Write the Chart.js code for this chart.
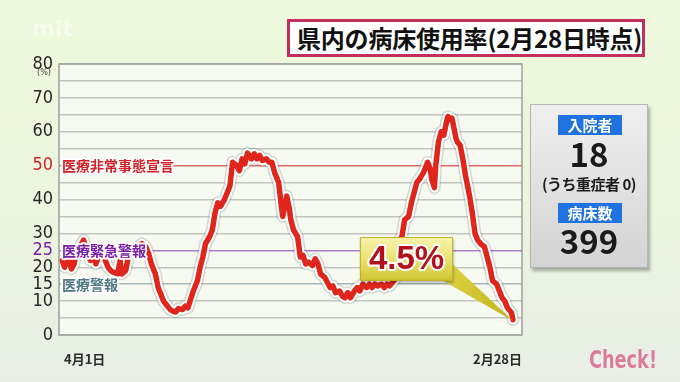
<!DOCTYPE html>
<html>
<head>
<meta charset="utf-8">
<script src="https://cdn.jsdelivr.net/npm/chart.js@4.4.1/dist/chart.umd.min.js"></script>
<style>
  html, body { margin:0; padding:0; }
  body { width:680px; height:382px; overflow:hidden; position:relative;
    background: linear-gradient(180deg, #eef8dc 0%, #ecf5de 55%, #e8eee6 100%);
    font-family: 'Noto Sans CJK JP', sans-serif; }
  #wrap { position:absolute; left:0; top:0; width:680px; height:382px; }
  #title { position:absolute; left:287px; top:19px; width:358px; height:38px; box-sizing:border-box;
    border:3px solid #c32e5c; background:#fff; font-weight:700; font-size:24px; color:#111;
    line-height:32px; padding-left:7px; white-space:nowrap; letter-spacing:-0.2px; }
  #panel { position:absolute; left:530px; top:104px; width:118px; height:164px; box-sizing:border-box;
    border:1px solid #b5b5b5; background:linear-gradient(180deg,#efefef 0%,#d4d4d4 100%);
    box-shadow:2px 3px 3px rgba(0,0,0,0.3); }
  .blue { position:absolute; left:27px; width:64px; height:20px; background:#1f72e0; color:#fff;
    font-weight:700; font-size:15px; line-height:20px; text-align:center; }
  .big { position:absolute; left:0; width:100%; text-align:center; font-weight:700; color:#1a1a1a; }
  #mit { position:absolute; left:32px; top:16px; font-family:'DejaVu Sans', sans-serif; font-weight:700;
    font-size:22px; color:rgba(255,255,255,0.5); }
  #check { position:absolute; left:589px; top:346px; font-family:'DejaVu Sans Condensed',sans-serif;
    font-weight:700; font-size:24px; color:#d97c9a; text-shadow:0 0 2px #fff;
    transform:scaleX(0.82); transform-origin:left top; }
</style>
</head>
<body>
<div id="wrap"><canvas id="c" width="680" height="382"></canvas></div>
<div id="mit">mit</div>
<div id="title">県内の病床使用率(2月28日時点)</div>
<div id="panel">
  <div class="blue" style="top:10px;">入院者</div>
  <div class="big" style="top:28px;font-size:33px;line-height:40px;">18</div>
  <div class="big" style="top:68px;font-size:15px;line-height:22px;letter-spacing:-0.5px;">(うち重症者 0)</div>
  <div class="blue" style="top:98px;">病床数</div>
  <div class="big" style="top:115px;font-size:33px;line-height:40px;">399</div>
</div>
<div id="check">Check!</div>
<script>
// ---- data (day index from 4月1日, bed occupancy %) ----
const days = [0,2,4,7,9,11,13,16,18,21,23,25,27,30,32,34,36,38,41,43,44,47,49,51,53,56,59,62,64,66,69,71,73,75,78,80,82,84,86,89,91,93,95,97,100,102,104,106,109,111,113,115,117,120,122,124,126,129,131,133,135,137,140,142,144,146,148,151,153,155,157,160,162,163,165,166,168,169,171,174,176,178,180,182,185,187,189,191,194,196,198,200,202,205,207,209,211,213,216,218,220,222,225,227,229,231,233,236,238,240,242,244,247,249,251,253,256,258,260,262,264,267,269,270,272,273,275,276,278,280,282,284,285,287,288,290,291,292,294,296,298,301,303,305,307,309,312,314,316,318,321,323,325,327,329,332,333];
const rates = [22,20,24,19.5,21,25,26,28,25,22,24,21,23,25,22,20,19,18.5,18,22,18,19,23,24,24,26,27,26,24,21,18,14,12,10,8.5,7.5,7,6.8,7.8,7.5,8.5,8,10.5,13,16,20,23,27,29,31,36,39,38,40,42,44,51,50,48.5,52,50.5,53.7,52,53.5,52,53,51.5,52,51,51,48,45,38,35,39,41,37,34,31,29,23,23.5,21,21.5,20.5,22.5,21,18,17,15.5,14,14.5,12.5,13,11.5,11,12.5,11,13,14,13,15,14,15,14,15,14.5,15,14,15,14.5,15.5,17,28,29,34,35,39,42,45,46,48,50,51,49,46,43.5,50,57,60,59,63,64.5,63.5,64,60,58,57,56,52,47,41,36,30,28,27,26,23,20,16,15,13,11,10,8,6.5,4.5];
const xTickLabels = ['4月1日','2月28日'];
const yGridValues = [0,5,10,15,20,25,30,35,40,45,50,55,60,65,70,75,80];
const yTickLabels = [0,10,15,20,25,30,40,50,60,70,80];
const thresholds = [
  {value:50, label:'医療非常事態宣言', line:'#e06a6a', text:'#d2232a'},
  {value:25, label:'医療緊急警報', line:'#a77cc8', text:'#7a1fa8'},
  {value:15, label:'医療警報', line:'#aab6b8', text:'#4f7a84'}
];
const lastLabel = '4.5%';

const points = days.map((d,i)=>({x:d, y:rates[i]}));

function thresholdFor(v){ return thresholds.find(t=>t.value===v); }

const deco = {
  id:'deco',
  beforeDraw(chart){
    const {ctx, chartArea:a} = chart;
    ctx.save();
    ctx.fillStyle = '#f7faf1';
    ctx.fillRect(a.left, a.top, a.right-a.left, a.bottom-a.top);
    ctx.restore();
  },
  afterDatasetsDraw(chart){
    const {ctx, chartArea:a, scales:{x,y}} = chart;
    ctx.save();
    // frame
    ctx.strokeStyle = '#9da09a'; ctx.lineWidth = 1.5;
    ctx.strokeRect(a.left, a.top, a.right-a.left, a.bottom-a.top);
    // threshold labels
    ctx.font = '700 14px "Noto Sans CJK JP", sans-serif';
    ctx.textBaseline = 'middle'; ctx.textAlign = 'left';
    thresholds.forEach(t=>{
      const py = y.getPixelForValue(t.value);
      ctx.lineJoin = 'round';
      ctx.strokeStyle = 'rgba(255,255,255,0.95)'; ctx.lineWidth = 4;
      ctx.strokeText(t.label, a.left+3, py);
      ctx.fillStyle = t.text;
      ctx.fillText(t.label, a.left+3, py);
    });
    // (%) unit
    ctx.font = '9px "DejaVu Sans Condensed", sans-serif';
    ctx.fillStyle = '#444'; ctx.textAlign = 'center';
    ctx.fillText('(%)', 44, y.getPixelForValue(77.3));
    // callout
    const tipX = x.getPixelForValue(days[days.length-1]);
    const tipY = y.getPixelForValue(rates[rates.length-1]);
    const bl = x.getPixelForValue(220), br = x.getPixelForValue(288.8);
    const bt = y.getPixelForValue(28.9), bb = y.getPixelForValue(16);
    ctx.beginPath();
    ctx.moveTo(br-10, bb); ctx.lineTo(br, bb-16); ctx.lineTo(tipX, tipY+1); ctx.closePath();
    const pg = ctx.createLinearGradient(br, bb, tipX, tipY);
    pg.addColorStop(0,'#d9cf3c'); pg.addColorStop(1,'#bfb21f');
    ctx.fillStyle = pg; ctx.fill();
    ctx.shadowColor = 'rgba(0,0,0,0.3)'; ctx.shadowBlur = 3; ctx.shadowOffsetX = 1; ctx.shadowOffsetY = 2;
    const g = ctx.createLinearGradient(0, bt, 0, bb);
    g.addColorStop(0,'#f7f4ae'); g.addColorStop(0.5,'#ebe370'); g.addColorStop(1,'#cfc432');
    ctx.fillStyle = g;
    ctx.fillRect(bl, bt, br-bl, bb-bt);
    ctx.shadowColor = 'transparent';
    ctx.strokeStyle = '#bdb02a'; ctx.lineWidth = 1;
    ctx.strokeRect(bl+0.5, bt+0.5, br-bl-1, bb-bt-1);
    ctx.font = '700 33px "Liberation Sans", Arial, sans-serif';
    ctx.textAlign = 'center'; ctx.textBaseline = 'middle';
    ctx.lineWidth = 4; ctx.strokeStyle = '#fff';
    ctx.strokeText(lastLabel, (bl+br)/2, (bt+bb)/2+1);
    ctx.fillStyle = '#b3121c';
    ctx.fillText(lastLabel, (bl+br)/2, (bt+bb)/2+1);
    ctx.restore();
  }
};

new Chart(document.getElementById('c'), {
  type:'line',
  data:{ datasets:[
    {data:points, borderColor:'#e0261c', borderWidth:5.5, pointRadius:0, tension:0, borderJoinStyle:'round', borderCapStyle:'round'},
    {data:points, borderColor:'#ffffff', borderWidth:9.5, pointRadius:0, tension:0, borderJoinStyle:'round', borderCapStyle:'round'},
    {data:points, borderColor:'rgba(90,90,90,0.22)', borderWidth:12.5, pointRadius:0, tension:0, borderJoinStyle:'round', borderCapStyle:'round'}
  ]},
  options:{
    responsive:false, animation:false, devicePixelRatio:1,
    layout:{padding:{left:0, top:64, right:158, bottom:0}},
    plugins:{legend:{display:false}, tooltip:{enabled:false}},
    scales:{
      x:{ type:'linear', min:-2.2, max:339.7,
        afterFit(s){ s.height = 47; },
        afterBuildTicks(s){ s.ticks = [{value:1.5},{value:339.7}]; },
        grid:{display:false}, border:{display:false},
        ticks:{ autoSkip:false, align:'inner', padding:8, color:'#2a2a2a',
          font:{family:'"Noto Sans CJK JP", sans-serif', size:13, weight:'bold'},
          callback:(v,i)=>xTickLabels[i] }
      },
      y:{ min:0, max:80,
        afterFit(s){ s.width = 59; },
        afterBuildTicks(s){ s.ticks = yGridValues.map(v=>({value:v})); },
        border:{display:false},
        grid:{ drawTicks:false, lineWidth:1.5,
          color:(c)=>{ const t = thresholdFor(c.tick.value); return t ? t.line : '#c2c5bd'; } },
        ticks:{ autoSkip:false, padding:6,
          font:{family:'"DejaVu Sans Condensed",sans-serif', size:18},
          color:(c)=>{ const v=c.tick.value; return v===50 ? '#d2232a' : v===25 ? '#7a1fa8' : '#262626'; },
          callback:(v)=> yTickLabels.includes(v) ? String(v) : '' }
      }
    }
  },
  plugins:[deco]
});
</script>
</body>
</html>
